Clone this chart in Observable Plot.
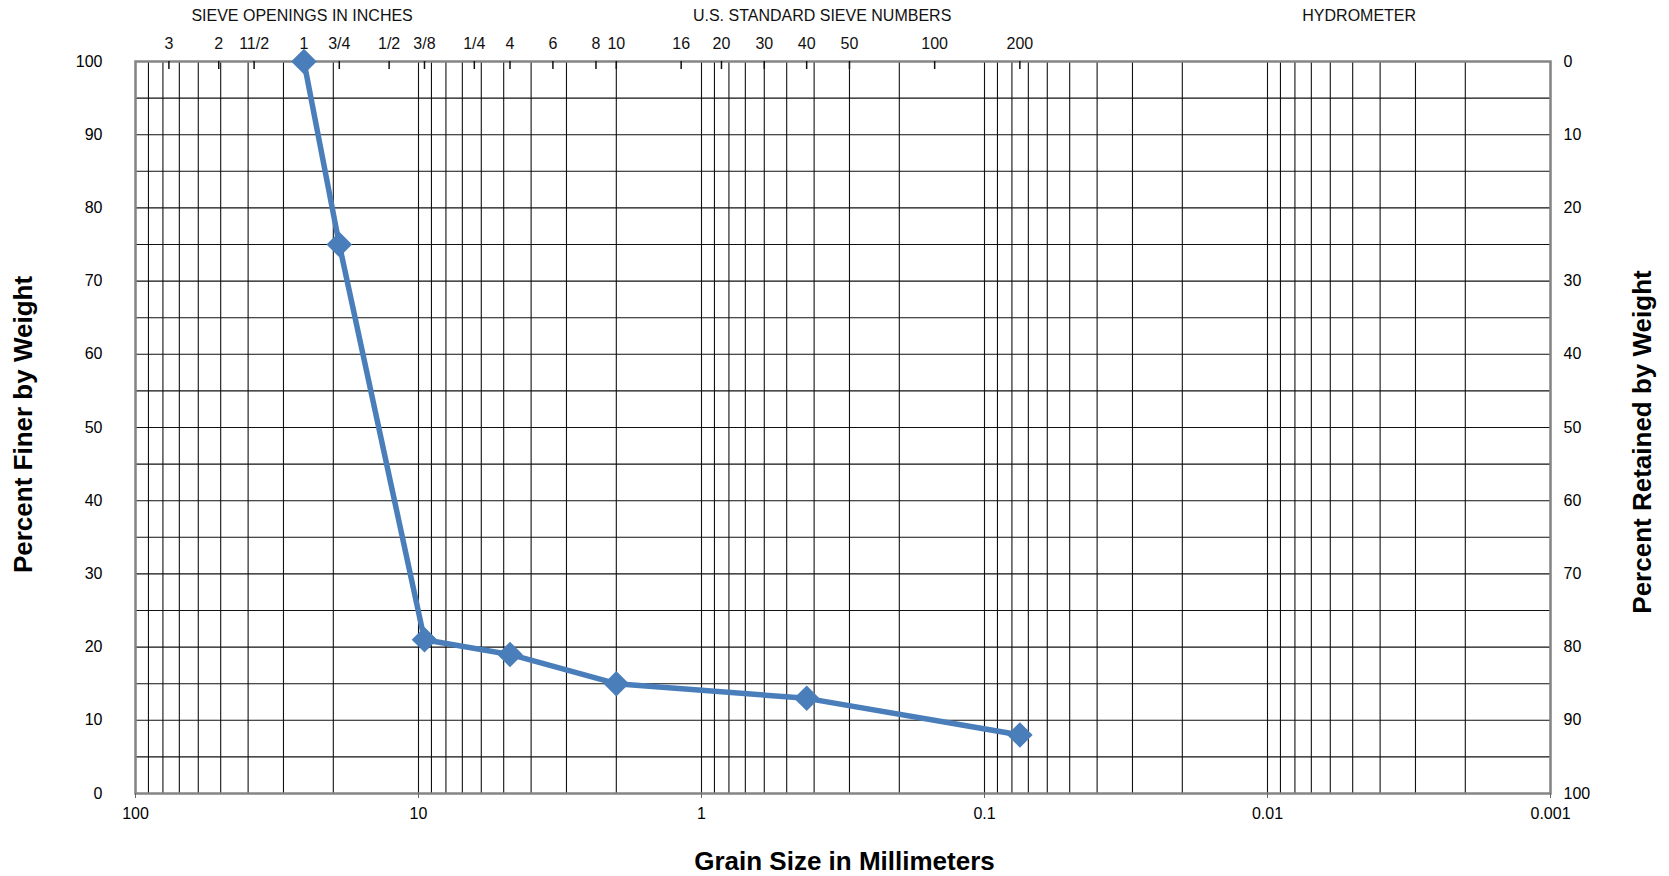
<!DOCTYPE html>
<html>
<head>
<meta charset="utf-8">
<script src="https://cdn.jsdelivr.net/npm/d3@7"></script>
<script src="https://cdn.jsdelivr.net/npm/@observablehq/plot@0.6"></script>
<style>
  html, body { margin: 0; padding: 0; background: #fff; }
  #chart svg { display: block; }
</style>
</head>
<body>
<div id="chart"></div>
<script>
// ---- data ----
const grainSizeMM = [25.4, 19.05, 9.525, 4.75, 2.0, 0.425, 0.075];
const percentFiner = [100, 75, 21, 19, 15, 13, 8];

const inchSieveLabels = ["3", "2", "11/2", "1", "3/4", "1/2", "3/8", "1/4"];
const inchSieveMM = [76.2, 50.8, 38.1, 25.4, 19.05, 12.7, 9.525, 6.35];

const numberSieveLabels = ["4", "6", "8", "10", "16", "20", "30", "40", "50", "100", "200"];
const numberSieveMM = [4.75, 3.35, 2.36, 2.0, 1.18, 0.85, 0.6, 0.425, 0.3, 0.15, 0.075];

const xTickValues = [100, 10, 1, 0.1, 0.01, 0.001];
const xTickLabels = ["100", "10", "1", "0.1", "0.01", "0.001"];
const yTickValues = [0, 10, 20, 30, 40, 50, 60, 70, 80, 90, 100];

const headerLabels = ["SIEVE OPENINGS IN INCHES", "U.S. STANDARD SIEVE NUMBERS", "HYDROMETER"];

// ---- derived tables ----
const points = grainSizeMM.map((g, i) => ({size: g, finer: percentFiner[i]}));
const sieves = inchSieveMM.map((m, i) => ({mm: m, label: inchSieveLabels[i]}))
  .concat(numberSieveMM.map((m, i) => ({mm: m, label: numberSieveLabels[i]})));
const logGrid = [];
for (let k = -3; k <= 1; k++) for (let n = 1; n <= 9; n++) logGrid.push(n * Math.pow(10, k));
logGrid.push(100);
const yGrid = d3.range(0, 101, 5);

const W = 1669, H = 876;
const mL = 135, mR = 119, mT = 61, mB = 83;
const plotH = H - mT - mB;
const font = "'Liberation Sans', Arial, Helvetica, sans-serif";
const blue = "#4A7EBB";
const fs = 16;

const chart = Plot.plot({
  width: W,
  height: H,
  marginLeft: mL,
  marginRight: mR,
  marginTop: mT,
  marginBottom: mB,
  style: {fontFamily: font, background: "#fff", overflow: "visible", color: "#000"},
  x: {type: "log", domain: [100, 0.001]},
  y: {domain: [0, 100]},
  marks: [
    // grid
    Plot.ruleX(logGrid, {x: d => d, stroke: "#111", strokeWidth: 1.1}),
    Plot.ruleY(yGrid, {y: d => d, stroke: "#111", strokeWidth: 1.1}),
    Plot.frame({stroke: "#858585", strokeWidth: 2.5}),
    // sieve tick marks (inside, from top)
    Plot.ruleX(sieves, {x: "mm", stroke: "#111", strokeWidth: 1.5, insetBottom: plotH - 8}),
    // sieve labels (top row)
    Plot.text(sieves, {x: "mm", text: "label", frameAnchor: "top", dy: -18, lineAnchor: "middle", fontSize: fs, fill: "#111"}),
    // headers
    Plot.text([headerLabels[0]], {frameAnchor: "top-left", dx: 301.6 - mL, dy: 15 - mT, lineAnchor: "middle", textAnchor: "middle", fontSize: fs, fill: "#111"}),
    Plot.text([headerLabels[1]], {frameAnchor: "top-left", dx: 821.6 - mL, dy: 15 - mT, lineAnchor: "middle", textAnchor: "middle", fontSize: fs, fill: "#111"}),
    Plot.text([headerLabels[2]], {frameAnchor: "top-left", dx: 1358.7 - mL, dy: 15 - mT, lineAnchor: "middle", textAnchor: "middle", fontSize: fs, fill: "#111"}),
    // bottom axis
    Plot.axisX({anchor: "bottom", ticks: xTickValues, tickFormat: d => xTickLabels[xTickValues.indexOf(d)], tickSize: 5, tickPadding: 9, fontSize: fs, stroke: "#666", label: null}),
    // left axis
    Plot.axisY({anchor: "left", ticks: yTickValues, tickFormat: d => String(d), tickSize: 0, tickPadding: 33, fontSize: fs, label: null}),
    // right axis (percent retained)
    Plot.axisY({anchor: "right", ticks: yTickValues, tickFormat: d => String(100 - d), tickSize: 0, tickPadding: 13, fontSize: fs, label: null}),
    // axis titles
    Plot.text(["Grain Size in Millimeters"], {frameAnchor: "bottom", dx: 1.5, dy: 68, lineAnchor: "middle", textAnchor: "middle", fontSize: 26, fontWeight: "bold", fill: "#000"}),
    Plot.text(["Percent Finer by Weight"], {frameAnchor: "left", dx: 23.5 - mL, dy: -3, rotate: -90, lineAnchor: "middle", textAnchor: "middle", fontSize: 26, fontWeight: "bold", fill: "#000"}),
    Plot.text(["Percent Retained by Weight"], {frameAnchor: "right", dx: 1642.4 - (W - mR), dy: 14.5, rotate: -90, lineAnchor: "middle", textAnchor: "middle", fontSize: 26, fontWeight: "bold", fill: "#000"}),
    // data
    Plot.line(points, {x: "size", y: "finer", stroke: blue, strokeWidth: 5.5, strokeLinejoin: "round"}),
    Plot.dot(points, {x: "size", y: "finer", symbol: "diamond2", r: 11.5, fill: blue, stroke: "none"})
  ]
});
document.getElementById("chart").appendChild(chart);
</script>
</body>
</html>
